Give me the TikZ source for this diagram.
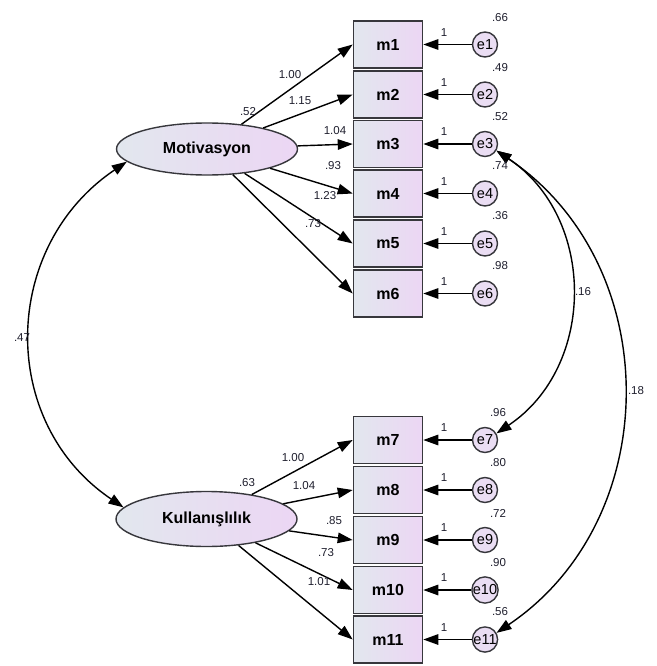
\documentclass[tikz,border=0pt]{standalone}
\usepackage{fontspec}
\setmainfont{Liberation Sans}
\usetikzlibrary{shapes.geometric,arrows.meta}
\definecolor{boxleft}{RGB}{226,231,238}
\definecolor{boxright}{RGB}{236,214,244}
\definecolor{errfill}{RGB}{234,221,243}
\definecolor{edgegray}{RGB}{55,55,60}
\definecolor{valtext}{RGB}{30,30,45}

\begin{document}
\begin{tikzpicture}[x=1pt,y=-1pt,
  obs/.style={draw=edgegray, line width=1.6pt, rectangle, left color=boxleft, right color=boxright, minimum width=69pt, minimum height=47pt, inner sep=0pt, font=\fontsize{16}{16}\selectfont\bfseries},
  lat/.style={draw=edgegray, line width=1.4pt, ellipse, left color=boxleft, right color=boxright, minimum width=181pt, inner sep=0pt, font=\fontsize{16}{16}\selectfont\bfseries},
  err/.style={draw=edgegray, line width=1.4pt, circle, fill=errfill, minimum size=25pt, inner sep=0pt, font=\fontsize{14.5}{14.5}\selectfont},
  val/.style={font=\fontsize{11.5}{11.5}\selectfont, text=valtext, inner sep=0pt},
  load/.style={line width=1.4pt, -{Triangle[length=15pt,width=10.5pt]}},
  cov/.style={line width=1.4pt, {Triangle[length=15pt,width=10.5pt]}-{Triangle[length=15pt,width=10.5pt]}}]
\useasboundingbox (0,0) rectangle (656,666);

\node[lat, minimum height=52pt] (mot) at (207,149){Motivasyon};
\node[lat, minimum height=55pt] (kul) at (206.5,519){Kullanışlılık};

\node[obs] (m1) at (388,44.5){m1};
\node[obs] (m2) at (388,94.5){m2};
\node[obs] (m3) at (388,144){m3};
\node[obs] (m4) at (388,193.5){m4};
\node[obs] (m5) at (388,243.5){m5};
\node[obs] (m6) at (388,293.5){m6};
\node[obs] (m7) at (388,440){m7};
\node[obs] (m8) at (388,490){m8};
\node[obs] (m9) at (388,540){m9};
\node[obs] (m10) at (388,590){m10};
\node[obs] (m11) at (388,639.5){m11};

\node[err] (e1) at (485,44.5){e1};
\node[err] (e2) at (485,94.5){e2};
\node[err] (e3) at (485,144){e3};
\node[err] (e4) at (485,193.5){e4};
\node[err] (e5) at (485,243.5){e5};
\node[err] (e6) at (485,293.5){e6};
\node[err] (e7) at (485,440){e7};
\node[err] (e8) at (485,490){e8};
\node[err] (e9) at (485,540){e9};
\node[err] (e10) at (485,590){e10};
\node[err] (e11) at (485,639.5){e11};

\draw[load] (mot) -- (m1.west);
\draw[load] (mot) -- (m2.west);
\draw[load] (mot) -- (m3.west);
\draw[load] (mot) -- (m4.west);
\draw[load] (mot) -- (m5.west);
\draw[load] (mot) -- (m6.west);
\draw[load] (kul) -- (m7.west);
\draw[load] (kul) -- (m8.west);
\draw[load] (kul) -- (m9.west);
\draw[load] (kul) -- (m10.west);
\draw[load] (kul) -- (m11.west);

\draw[load] (e1) -- (m1);
\draw[load] (e2) -- (m2);
\draw[load] (e3) -- (m3);
\draw[load] (e4) -- (m4);
\draw[load] (e5) -- (m5);
\draw[load] (e6) -- (m6);
\draw[load] (e7) -- (m7);
\draw[load] (e8) -- (m8);
\draw[load] (e9) -- (m9);
\draw[load] (e10) -- (m10);
\draw[load] (e11) -- (m11);

\draw[cov] (mot.189) .. controls +(-126,85) and +(-126,-85) .. (kul.172);
\draw[cov] (e3.-30) .. controls +(100,67) and +(100,-67) .. (e7.30);
\draw[cov] (e3.-30) .. controls +(169,114) and +(169,-114) .. (e11.30);

\node[val] (vmot) at (248,112){.52};
\node[val] (vkul) at (247,483){.63};
\node[val] (l1) at (290,75){1.00};
\node[val] (l2) at (300,101){1.15};
\node[val] (l3) at (335,131){1.04};
\node[val] (l4) at (333,166){.93};
\node[val] (l5) at (325,196){1.23};
\node[val] (l6) at (313,224){.73};
\node[val] (l7) at (293,458){1.00};
\node[val] (l8) at (304,486){1.04};
\node[val] (l9) at (334,521){.85};
\node[val] (l10) at (326,553){.73};
\node[val] (l11) at (319,582){1.01};

\node[val] (f1) at (444,32.5){1};
\node[val] (f2) at (444,82.5){1};
\node[val] (f3) at (444,132){1};
\node[val] (f4) at (444,181.5){1};
\node[val] (f5) at (444,231.5){1};
\node[val] (f6) at (444,281.5){1};
\node[val] (f7) at (444,428){1};
\node[val] (f8) at (444,478){1};
\node[val] (f9) at (444,528){1};
\node[val] (f10) at (444,578){1};
\node[val] (f11) at (444,627.5){1};

\node[val] (v1) at (500,18){.66};
\node[val] (v2) at (500,67.5){.49};
\node[val] (v3) at (500,117){.52};
\node[val] (v4) at (500,166){.74};
\node[val] (v5) at (500,216){.36};
\node[val] (v6) at (500,266){.98};
\node[val] (v7) at (498,413){.96};
\node[val] (v8) at (498,463){.80};
\node[val] (v9) at (498,513){.72};
\node[val] (v10) at (498,563){.90};
\node[val] (v11) at (500,611.5){.56};

\node[val] (c1) at (22,338){.47};
\node[val] (c2) at (583,292){.16};
\node[val] (c3) at (636,391){.18};
\end{tikzpicture}
\end{document}
